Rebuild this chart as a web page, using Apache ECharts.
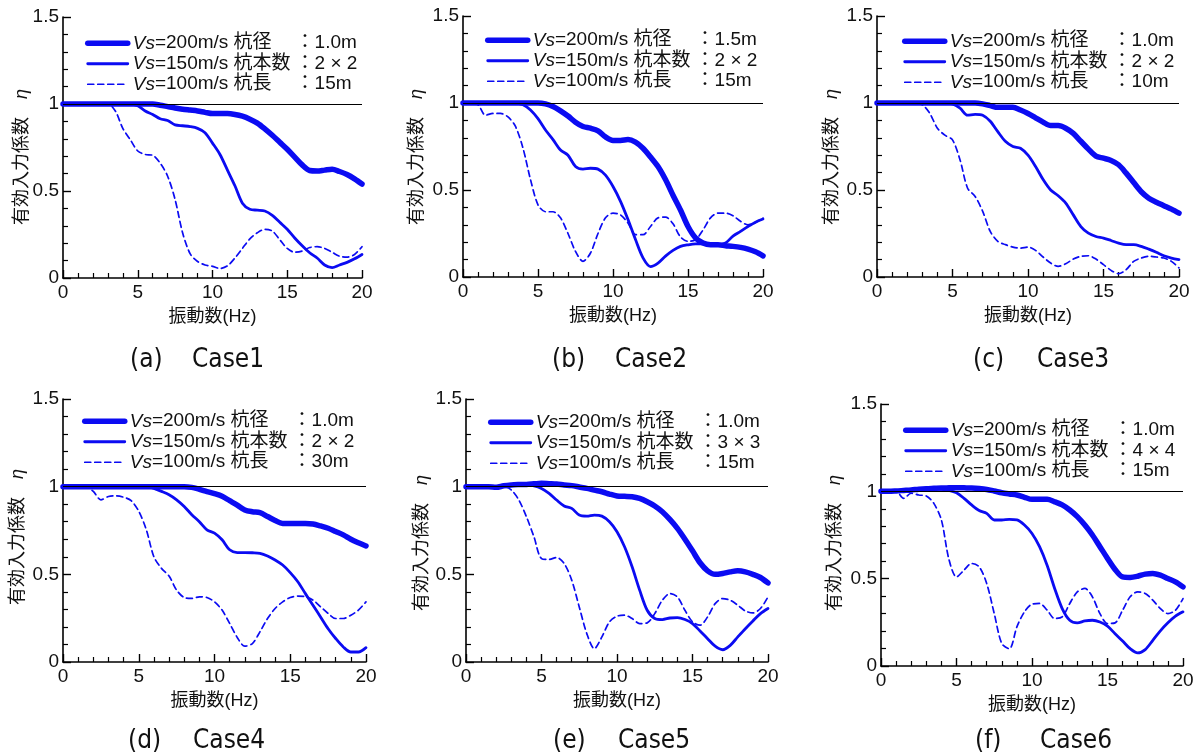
<!DOCTYPE html>
<html>
<head>
<meta charset="utf-8">
<script src="https://cdn.jsdelivr.net/npm/echarts@6/dist/echarts.min.js"></script>
<style>
html,body{margin:0;padding:0;background:#fff;}
#chart{width:1199px;height:756px;}
</style>
</head>
<body>
<div id="chart"></div>
<script>
// ---------- DATA ----------
const freq = [0,0.5,1,1.5,2,2.5,3,3.5,4,4.5,5,5.5,6,6.5,7,7.5,8,8.5,9,9.5,10,10.5,11,11.5,12,12.5,13,13.5,14,14.5,15,15.5,16,16.5,17,17.5,18,18.5,19,19.5,20];
const xTicks = [0,5,10,15,20];
const yTicks = [0,0.5,1,1.5];
const REF_LEVEL = 1;

const caseLabels = ['(a)','(b)','(c)','(d)','(e)','(f)'];
const caseNames = ['Case1','Case2','Case3','Case4','Case5','Case6'];
const vsLabels = ['200m/s','150m/s','100m/s'];
const pileDiameter = ['1.0m','1.5m','1.0m','1.0m','1.0m','1.0m'];
const pileCount = ['2 × 2','2 × 2','2 × 2','2 × 2','3 × 3','4 × 4'];
const pileLength = ['15m','15m','10m','30m','15m','15m'];

const case1_vs200 = [1,1,1,1,1,1,1,1,1,1,1,1,1,0.993,0.985,0.977,0.97,0.965,0.96,0.952,0.945,0.945,0.945,0.94,0.93,0.913,0.89,0.857,0.82,0.78,0.74,0.695,0.65,0.618,0.615,0.62,0.625,0.612,0.595,0.57,0.54];
const case1_vs150 = [1,1,1,1,1,1,1,1,1,1,0.99,0.96,0.94,0.915,0.905,0.88,0.875,0.87,0.86,0.835,0.775,0.71,0.62,0.53,0.43,0.395,0.39,0.385,0.36,0.32,0.28,0.23,0.185,0.145,0.115,0.075,0.06,0.075,0.09,0.11,0.135];
const case1_vs100 = [1,1,1,1,1,1,1,0.96,0.86,0.795,0.73,0.71,0.705,0.66,0.585,0.45,0.26,0.14,0.095,0.075,0.067,0.055,0.07,0.115,0.17,0.225,0.26,0.28,0.27,0.22,0.17,0.148,0.155,0.175,0.18,0.17,0.148,0.125,0.12,0.135,0.18];

const case2_vs200 = [1,1,1,1,1,1,1,1,1,1,1,0.995,0.98,0.955,0.925,0.89,0.865,0.855,0.84,0.805,0.785,0.785,0.79,0.775,0.74,0.69,0.635,0.56,0.47,0.385,0.29,0.225,0.195,0.185,0.185,0.18,0.176,0.17,0.16,0.145,0.122];
const case2_vs150 = [1,1,1,1,1,1,1,1,0.99,0.96,0.91,0.845,0.79,0.73,0.7,0.635,0.62,0.625,0.62,0.585,0.52,0.435,0.33,0.215,0.11,0.06,0.08,0.12,0.153,0.176,0.185,0.19,0.19,0.188,0.185,0.195,0.235,0.262,0.29,0.315,0.333];
const case2_vs100 = [1,1,0.99,0.93,0.94,0.94,0.92,0.865,0.74,0.56,0.415,0.375,0.375,0.34,0.25,0.147,0.09,0.138,0.25,0.34,0.367,0.357,0.31,0.243,0.243,0.29,0.34,0.344,0.306,0.23,0.205,0.214,0.27,0.34,0.367,0.367,0.352,0.32,0.3,0.314,0.338];

const case3_vs200 = [1,1,1,1,1,1,1,1,1,1,1,1,1,1,0.995,0.985,0.975,0.975,0.975,0.96,0.94,0.915,0.89,0.87,0.87,0.855,0.825,0.78,0.735,0.695,0.683,0.67,0.645,0.597,0.543,0.49,0.453,0.43,0.41,0.39,0.367];
const case3_vs150 = [1,1,1,1,1,1,1,1,1,1,0.995,0.97,0.93,0.935,0.93,0.895,0.835,0.78,0.75,0.74,0.7,0.635,0.56,0.5,0.467,0.425,0.357,0.29,0.252,0.233,0.224,0.21,0.195,0.186,0.186,0.176,0.16,0.142,0.122,0.109,0.1];
const case3_vs100 = [1,1,1,1,1,1,0.99,0.94,0.855,0.815,0.788,0.673,0.51,0.463,0.377,0.262,0.205,0.186,0.172,0.166,0.172,0.153,0.115,0.08,0.061,0.076,0.103,0.119,0.122,0.103,0.071,0.038,0.019,0.042,0.09,0.109,0.119,0.115,0.109,0.09,0.052];

const case4_vs200 = [1,1,1,1,1,1,1,1,1,1,1,1,1,1,1,1,1,0.996,0.985,0.972,0.96,0.945,0.92,0.895,0.867,0.857,0.852,0.83,0.807,0.79,0.79,0.79,0.79,0.787,0.776,0.763,0.744,0.725,0.7,0.68,0.662];
const case4_vs150 = [1,1,1,1,1,1,1,1,1,1,1,1,0.99,0.973,0.954,0.925,0.887,0.84,0.8,0.754,0.735,0.697,0.64,0.624,0.624,0.623,0.62,0.605,0.582,0.553,0.51,0.458,0.39,0.324,0.257,0.19,0.134,0.086,0.057,0.057,0.082];
const case4_vs100 = [1,1,1,1,0.973,0.925,0.944,0.948,0.94,0.92,0.86,0.754,0.6,0.534,0.49,0.41,0.368,0.363,0.372,0.368,0.343,0.296,0.22,0.14,0.09,0.105,0.172,0.248,0.305,0.343,0.368,0.376,0.372,0.353,0.315,0.277,0.248,0.248,0.267,0.296,0.343];

const case5_vs200 = [1,1,1,1,0.996,1.005,1.01,1.012,1.013,1.016,1.019,1.017,1.015,1.01,1.006,0.998,0.99,0.98,0.971,0.958,0.947,0.945,0.943,0.933,0.914,0.89,0.857,0.813,0.762,0.7,0.634,0.566,0.52,0.5,0.505,0.514,0.52,0.514,0.5,0.482,0.451];
const case5_vs150 = [1,1,1,1,1,1.005,1.008,1.01,1.01,1.005,0.99,0.962,0.924,0.89,0.876,0.838,0.832,0.838,0.832,0.8,0.743,0.657,0.543,0.41,0.295,0.248,0.242,0.251,0.253,0.242,0.219,0.177,0.133,0.09,0.07,0.095,0.143,0.19,0.234,0.276,0.305];
const case5_vs100 = [1,1,1,1,1,1,0.981,0.924,0.829,0.714,0.59,0.585,0.596,0.562,0.467,0.314,0.162,0.076,0.143,0.229,0.261,0.267,0.248,0.219,0.223,0.276,0.352,0.39,0.371,0.295,0.229,0.21,0.257,0.333,0.362,0.352,0.324,0.291,0.28,0.305,0.371];

const case6_vs200 = [1,1,1.002,1.005,1.008,1.012,1.015,1.017,1.019,1.02,1.021,1.02,1.019,1.016,1.011,1.002,0.992,0.985,0.979,0.966,0.954,0.954,0.954,0.94,0.922,0.893,0.855,0.807,0.75,0.683,0.616,0.553,0.51,0.507,0.514,0.526,0.53,0.52,0.501,0.482,0.453];
const case6_vs150 = [1,1,1,1.003,1.006,1.01,1.012,1.014,1.012,1.006,0.992,0.96,0.922,0.89,0.874,0.836,0.836,0.839,0.836,0.807,0.759,0.683,0.577,0.444,0.329,0.262,0.247,0.258,0.262,0.252,0.228,0.185,0.143,0.099,0.075,0.094,0.147,0.201,0.247,0.285,0.31];
const case6_vs100 = [1,1,1,0.96,0.989,0.979,0.973,0.931,0.836,0.61,0.51,0.549,0.587,0.568,0.472,0.3,0.128,0.099,0.224,0.31,0.354,0.358,0.32,0.272,0.281,0.358,0.424,0.444,0.396,0.3,0.243,0.247,0.319,0.396,0.424,0.415,0.377,0.329,0.3,0.319,0.386];

const caseSeries = [
  [case1_vs200, case1_vs150, case1_vs100],
  [case2_vs200, case2_vs150, case2_vs100],
  [case3_vs200, case3_vs150, case3_vs100],
  [case4_vs200, case4_vs150, case4_vs100],
  [case5_vs200, case5_vs150, case5_vs100],
  [case6_vs200, case6_vs150, case6_vs100]
];

// ---------- LAYOUT (pixels) ----------
const layout = [
  {grid:{left:63, top:17, width:299, height:261}, legend:{left:80, top:28}, yName:[22,157], cap:[130,192,360]},
  {grid:{left:463, top:16, width:300, height:261}, legend:{left:480, top:25}, yName:[417,157], cap:[552,615,360]},
  {grid:{left:877, top:16, width:302, height:261}, legend:{left:897, top:26}, yName:[832,157], cap:[973,1037,360]},
  {grid:{left:63, top:399, width:303, height:263}, legend:{left:77, top:406}, yName:[18,537], cap:[128,193,741]},
  {grid:{left:466, top:399, width:302, height:263}, legend:{left:483, top:407}, yName:[422,543], cap:[553,618,741]},
  {grid:{left:881, top:404, width:302, height:262}, legend:{left:898, top:415}, yName:[835,543], cap:[975,1040,741]}
];

const BLUE = '#0b0bf2';
const lineStyles = [
  {width:5.5, type:'solid'},
  {width:2.8, type:'solid'},
  {width:1.7, type:[6,4]}
];
const latin = "'Liberation Sans', Arial, 'Noto Sans CJK JP', sans-serif";
const TXT = '#111';

const grids = [], xAxes = [], yAxes = [], series = [], legends = [], graphics = [];

layout.forEach((L, p) => {
  grids.push(Object.assign({containLabel:false}, L.grid));
  xAxes.push({
    type:'value', gridIndex:p, min:xTicks[0], max:xTicks[xTicks.length-1], interval:xTicks[1]-xTicks[0],
    name:'振動数(Hz)', nameLocation:'middle', nameGap:30,
    nameTextStyle:{fontSize:18, color:TXT, fontFamily:latin},
    axisLine:{show:true, onZero:false, lineStyle:{color:'#000', width:1.6}},
    axisTick:{show:true, inside:true, length:8, lineStyle:{color:'#000', width:1.4}},
    minorTick:{show:true, splitNumber:5, length:5, lineStyle:{color:'#000', width:1.2}},
    axisLabel:{fontSize:19, color:TXT, fontFamily:latin, margin:5},
    splitLine:{show:false}
  });
  yAxes.push({
    type:'value', gridIndex:p, min:yTicks[0], max:yTicks[yTicks.length-1], interval:yTicks[1]-yTicks[0],
    axisLine:{show:true, onZero:false, lineStyle:{color:'#000', width:1.6}},
    axisTick:{show:true, inside:true, length:8, lineStyle:{color:'#000', width:1.4}},
    minorTick:{show:true, splitNumber:5, length:5, lineStyle:{color:'#000', width:1.2}},
    axisLabel:{fontSize:19, color:TXT, fontFamily:latin, margin:4},
    splitLine:{show:false}
  });
  // reference line at eta = 1
  series.push({
    type:'line', xAxisIndex:p, yAxisIndex:p, data:[], z:1, silent:true,
    markLine:{silent:true, symbol:['none','none'], label:{show:false},
      lineStyle:{color:'#000', width:1, type:'solid'}, data:[{yAxis:REF_LEVEL}]}
  });
  const names = [];
  caseSeries[p].forEach((vals, k) => {
    const name = 'c' + (p+1) + '_' + k;
    names.push(name);
    series.push({
      name, type:'line', xAxisIndex:p, yAxisIndex:p, z:2+k,
      data: freq.map((f, i) => [f, vals[i]]),
      symbol:'none', smooth:0.3, silent:true,
      lineStyle:Object.assign({color:BLUE, cap:'round', join:'round'}, lineStyles[k]),
      itemStyle:{color:BLUE}
    });
  });
  const keys = ['杭径','杭本数','杭長'];
  const vals = [pileDiameter[p], pileCount[p], pileLength[p]];
  legends.push({
    orient:'vertical', left:L.legend.left, top:L.legend.top, itemGap:0,
    itemWidth:40, itemHeight:14, selectedMode:false,
    data:names,
    itemStyle:{opacity:0},
    lineStyle:{width:'inherit', type:'inherit'},
    formatter:(name) => {
      const k = +name.split('_')[1];
      return '{i|Vs}=' + vsLabels[k] + ' {k|' + keys[k] + '}：' + vals[k];
    },
    textStyle:{fontSize:19, color:TXT, fontFamily:latin, lineHeight:20.5,
      rich:{
        i:{fontStyle:'italic', fontSize:19, fontFamily:latin, color:TXT},
        k:{width:62, fontSize:19, fontFamily:latin, color:TXT}
      }}
  });
  graphics.push({
    type:'text', x:L.yName[0], y:L.yName[1], rotation:Math.PI/2,
    style:{text:'有効入力係数　{e|η}', fontSize:18, fill:TXT, fontFamily:latin,
      align:'center', verticalAlign:'middle',
      rich:{e:{fontStyle:'italic', fontSize:18, fontFamily:latin, fill:TXT}}}
  });
  const capFont = "'Liberation Sans Narrow', 'DejaVu Sans Condensed', 'Liberation Sans', sans-serif";
  graphics.push({
    type:'text', x:L.cap[0], y:L.cap[2],
    style:{text:caseLabels[p], fontSize:26, fill:TXT, fontFamily:capFont, align:'left', verticalAlign:'middle'}
  });
  graphics.push({
    type:'text', x:L.cap[1], y:L.cap[2],
    style:{text:caseNames[p], fontSize:26, fill:TXT, fontFamily:capFont, align:'left', verticalAlign:'middle'}
  });
});

const chart = echarts.init(document.getElementById('chart'), null, {renderer:'canvas'});
chart.setOption({
  animation:false,
  backgroundColor:'#fff',
  grid:grids, xAxis:xAxes, yAxis:yAxes, legend:legends, series, graphic:graphics
});
</script>
</body>
</html>
